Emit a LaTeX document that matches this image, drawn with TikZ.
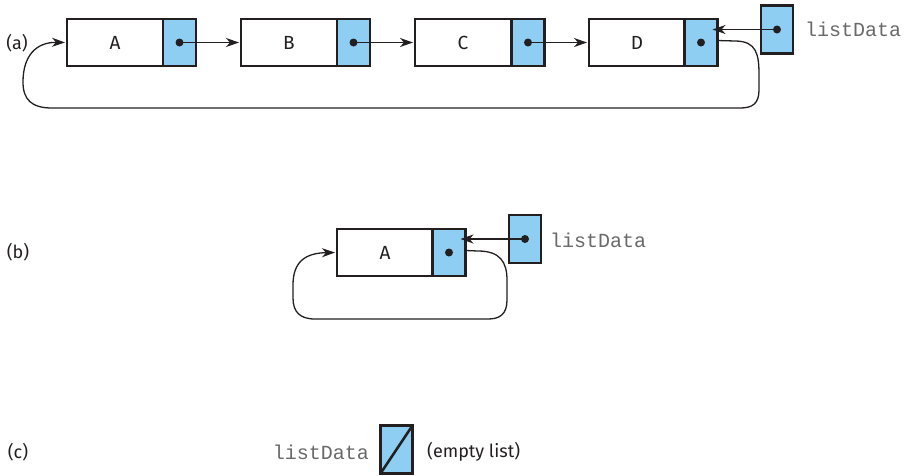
\documentclass[tikz,border=0pt]{standalone}
\usepackage{fontspec}
\setmainfont{Fira Sans}
\newfontfamily\monof{Liberation Mono}
\usetikzlibrary{arrows.meta}
\definecolor{cellblue}{RGB}{142,206,242}
\definecolor{ink}{RGB}{35,31,32}
\definecolor{mono}{RGB}{105,105,105}
\begin{document}
\begin{tikzpicture}[x=1pt,y=-1pt,
  datacell/.style={draw=ink,line width=2.6pt,fill=white,minimum width=96pt,minimum height=47pt,inner sep=0pt,outer sep=0pt,font=\fontsize{19}{21}\selectfont,text=ink},
  ptrcell/.style={draw=ink,line width=2.6pt,fill=cellblue,minimum width=33pt,minimum height=47pt,inner sep=0pt,outer sep=0pt},
  headcell/.style={draw=ink,line width=2.6pt,fill=cellblue,minimum width=32pt,minimum height=48pt,inner sep=0pt,outer sep=0pt},
  dotn/.style={circle,fill=ink,inner sep=0pt,minimum size=8pt},
  link/.style={draw=ink,line width=1.3pt,-{Stealth[length=13pt,width=9pt,inset=4pt]}},
  monotext/.style={font=\monof\fontsize{20}{22}\selectfont,text=mono,inner sep=0pt},
  lbl/.style={font=\fontsize{18}{20}\selectfont,text=ink,inner sep=0pt}]
\useasboundingbox (0,0) rectangle (906,475);
% (a)
\node[lbl] (la) at (17,43) {(a)};
\node[datacell] (A) at (115,42.5) {A};
\node[ptrcell] (Ap) at (179.5,42.5) {};
\node[datacell] (B) at (289,42.5) {B};
\node[ptrcell] (Bp) at (353.5,42.5) {};
\node[datacell] (C) at (463,42.5) {C};
\node[ptrcell] (Cp) at (528,42.5) {};
\node[datacell] (D) at (637,42.5) {D};
\node[ptrcell] (Dp) at (701,42.5) {};
\node[headcell] (H) at (777,29.5) {};
\node[monotext,anchor=west] (hl) at (805,29) {listData};
\node[dotn] (Ad) at (Ap.center) {};
\node[dotn] (Bd) at (Bp.center) {};
\node[dotn] (Cd) at (Cp.center) {};
\node[dotn] (Dd) at (Dp.center) {};
\node[dotn] (Hd) at (H.center) {};
\draw[link] (Ad.center) -- ([xshift=-2pt]B.west);
\draw[link] (Bd.center) -- ([xshift=-2pt]C.west);
\draw[link] (Cd.center) -- ([xshift=-2pt]D.west);
\draw[link] (Hd.center) -- ([xshift=-5pt]Dp.east |- Hd.center);
\draw[link] ([yshift=2pt]Dp.east) -- (735,41) .. controls (757,41) and (759,55) .. (759,75) -- (759,90) .. controls (759,104) and (752,108) .. (740,108) -- (52,108) .. controls (32,108) and (23,100) .. (23,82) .. controls (23,56) and (36,42) .. ([xshift=-2pt]A.west);
% (b)
\node[lbl] (lb) at (18,252) {(b)};
\node[datacell] (A2) at (385,252.5) {A};
\node[ptrcell] (A2p) at (449,252.5) {};
\node[dotn] (A2d) at (A2p.center) {};
\node[headcell] (H2) at (525,239) {};
\node[dotn] (H2d) at (H2.center) {};
\node[monotext,anchor=west] (hl2) at (550,240) {listData};
\draw[link] (H2d.center) -- ([xshift=-5pt]A2p.east |- H2d.center);
\draw[link] ([yshift=2pt]A2p.east) -- (478,251) .. controls (500,251) and (507,262) .. (507,280) -- (507,300) .. controls (507,314) and (500,319) .. (488,319) -- (315,319) .. controls (300,319) and (293,312) .. (293,298) -- (293,285) .. controls (293,262) and (305,253) .. ([xshift=-2pt]A2.west);
% (c)
\node[lbl] (lc) at (18,452) {(c)};
\node[headcell] (H3) at (396.5,449.5) {};
\draw[draw=ink,line width=2.6pt] (H3.south west) -- (H3.north east);
\node[monotext,anchor=east] (hl3) at (369,452) {listData};
\node[lbl,anchor=west] (el) at (427,452) {(empty list)};
\end{tikzpicture}
\end{document}
